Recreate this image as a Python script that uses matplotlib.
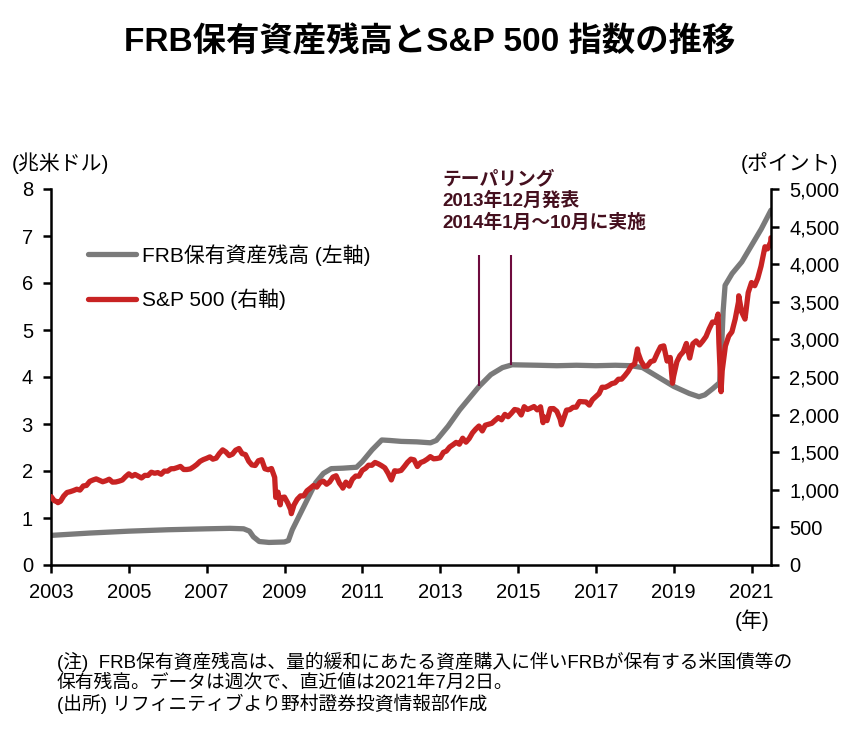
import matplotlib
matplotlib.use('Agg')
import matplotlib.pyplot as plt
import numpy as np
import pandas as pd

plt.rcParams['font.family'] = ['Liberation Sans', 'Noto Sans CJK JP']

# FRB保有資産残高 (兆米ドル)
frb_years = [2003.0, 2004.0, 2005.0, 2006.0, 2007.0, 2007.6, 2007.95, 2008.1, 2008.2, 2008.35,
             2008.6, 2009.0, 2009.1, 2009.2, 2009.35, 2009.5, 2009.65, 2009.8, 2010.0, 2010.2,
             2010.5, 2010.85, 2011.0, 2011.25, 2011.5, 2011.7, 2012.0, 2012.4, 2012.75, 2012.9,
             2013.2, 2013.5, 2013.75, 2014.0, 2014.3, 2014.6, 2014.85, 2015.5, 2016.0, 2016.5,
             2017.0, 2017.5, 2017.9, 2018.2, 2018.6, 2019.0, 2019.4, 2019.65, 2019.8, 2020.0,
             2020.18, 2020.22, 2020.27, 2020.32, 2020.5, 2020.75, 2021.0, 2021.25, 2021.5]
frb_values = [0.63, 0.68, 0.72, 0.75, 0.77, 0.78, 0.77, 0.72, 0.60, 0.50,
              0.48, 0.49, 0.52, 0.75, 1.00, 1.25, 1.50, 1.75, 1.95, 2.05,
              2.06, 2.08, 2.20, 2.45, 2.66, 2.65, 2.63, 2.62, 2.60, 2.65,
              2.95, 3.30, 3.55, 3.80, 4.05, 4.20, 4.26, 4.25, 4.24, 4.25,
              4.24, 4.25, 4.24, 4.20, 4.00, 3.80, 3.65, 3.58, 3.62, 3.75,
              3.88, 4.40, 5.40, 5.95, 6.20, 6.45, 6.80, 7.15, 7.55]

# S&P 500 monthly closes, Jan 2003 - Jun 2021
sp_monthly = [
    856, 841, 848, 917, 964, 975, 990, 1008, 996, 1051, 1058, 1112,
    1131, 1145, 1126, 1107, 1121, 1141, 1102, 1104, 1115, 1130, 1174, 1212,
    1181, 1204, 1181, 1157, 1192, 1191, 1234, 1220, 1229, 1207, 1249, 1248,
    1280, 1281, 1295, 1311, 1270, 1270, 1277, 1304, 1336, 1378, 1401, 1418,
    1438, 1407, 1421, 1482, 1531, 1503, 1455, 1474, 1527, 1549, 1481, 1468,
    1379, 1331, 1323, 1386, 1400, 1280, 1267, 1283, 1165, 969, 896, 903,
    826, 735, 798, 873, 919, 919, 987, 1021, 1057, 1036, 1096, 1115,
    1074, 1104, 1169, 1187, 1089, 1031, 1102, 1049, 1141, 1183, 1181, 1258,
    1286, 1327, 1326, 1364, 1345, 1321, 1292, 1219, 1131, 1253, 1247, 1258,
    1312, 1366, 1408, 1398, 1310, 1362, 1379, 1407, 1441, 1412, 1416, 1426,
    1498, 1515, 1569, 1598, 1631, 1606, 1686, 1633, 1682, 1757, 1806, 1848,
    1783, 1859, 1872, 1884, 1924, 1960, 1931, 2003, 1972, 2018, 2068, 2059,
    1995, 2105, 2068, 2086, 2107, 2063, 2104, 1972, 1920, 2079, 2080, 2044,
    1940, 1932, 2060, 2065, 2097, 2099, 2174, 2171, 2168, 2126, 2199, 2239,
    2279, 2364, 2363, 2384, 2412, 2423, 2470, 2472, 2519, 2575, 2648, 2674,
    2824, 2714, 2641, 2648, 2705, 2718, 2816, 2902, 2914, 2712, 2760, 2507,
    2704, 2784, 2834, 2946, 2752, 2942, 2980, 2926, 2977, 3038, 3141, 3231,
    3226, 2954, 2585, 2912, 3044, 3100, 3271, 3500, 3363, 3270, 3622, 3756,
    3714, 3811, 3973, 4181, 4204, 4298,
]
# weekly highs / lows visible in the chart
sp_extra_dates = ['2003-01-03', '2003-03-07', '2008-10-10', '2008-11-21', '2009-03-06',
                  '2010-07-02', '2015-08-24', '2016-02-12', '2018-01-26', '2018-12-21',
                  '2020-02-21', '2020-03-20', '2020-09-02', '2021-05-07', '2021-07-02']
sp_extra_values = [909, 829, 899, 800, 683,
                   1022, 1893, 1865, 2873, 2417,
                   3337, 2305, 3580, 4232, 4352]

year_ticks = list(range(2003, 2022, 2))
left_ticks = [0, 1, 2, 3, 4, 5, 6, 7, 8]
right_ticks = [0, 500, 1000, 1500, 2000, 2500, 3000, 3500, 4000, 4500, 5000]

title = 'FRB保有資産残高とS&P 500 指数の推移'
notes = ['(注)  FRB保有資産残高は、量的緩和にあたる資産購入に伴いFRBが保有する米国債等の',
         '保有残高。データは週次で、直近値は2021年7月2日。',
         '(出所) リフィニティブより野村證券投資情報部作成']
taper_text = 'テーパリング\n2013年12月発表\n2014年1月～10月に実施'
taper_years = [2014.0, 2014.83]


def to_year(d):
    d = pd.to_datetime(d)
    return d.year + (d.dayofyear - 1) / 365.25


sp = pd.Series(sp_monthly, index=pd.date_range('2003-01-31', periods=len(sp_monthly), freq='ME'))
sp = pd.concat([sp, pd.Series(sp_extra_values, index=pd.to_datetime(sp_extra_dates))]).sort_index()
sp_x = np.array([to_year(d) for d in sp.index])

W, H = 868, 729
fig = plt.figure(figsize=(W / 100, H / 100), dpi=100)
ax = fig.add_axes([51 / W, 1 - 565 / H, 720 / W, 376 / H])
ax2 = ax.twinx()

gray = '#7a7a7a'
red = '#c82323'
maroon = '#6e0b3e'

ax.plot(frb_years, frb_values, color=gray, lw=3.8, solid_capstyle='round',
        solid_joinstyle='round', label='FRB保有資産残高 (左軸)')
ax2.plot(sp_x, sp.values, color=red, lw=3.8, solid_capstyle='round',
         solid_joinstyle='round', label='S&P 500 (右軸)')

for ty in taper_years:
    ax.vlines(ty, np.interp(ty, frb_years, frb_values), 6.6, color=maroon, lw=1.5)
fig.text(442 / W, 1 - 170 / H, taper_text, color='#45101f', fontsize=13.5, fontweight='bold',
         va='top', ha='left', linespacing=1.25)

ax.set_xlim(2003, 2021.5)
ax.set_ylim(0, 8)
ax2.set_ylim(0, 5000)
ax.set_xticks(year_ticks)
ax.set_xticklabels([str(y) for y in year_ticks])
ax.set_yticks(left_ticks)
ax2.set_yticks(right_ticks)
ax2.set_yticklabels([f'{v:,}' for v in right_ticks])

for a in (ax, ax2):
    a.spines['top'].set_visible(False)
    for s in ('left', 'right', 'bottom'):
        a.spines[s].set_linewidth(1.8)
    a.tick_params(direction='out', length=6, width=1.8, labelsize=14.5, pad=7)
ax.spines['right'].set_visible(False)
ax2.spines['left'].set_visible(False)
ax2.spines['bottom'].set_visible(False)

h1, l1 = ax.get_legend_handles_labels()
h2, l2 = ax2.get_legend_handles_labels()
ax.legend(h1 + h2, l1 + l2, loc='upper left', bbox_to_anchor=(88 / W, 1 - 244 / H),
          bbox_transform=fig.transFigure, frameon=False, fontsize=15, handlelength=2.3,
          handletextpad=0.3, labelspacing=1.1, borderpad=0, borderaxespad=0)

fig.text(430 / W, 1 - 42 / H, title, ha='center', va='center', fontsize=24, fontweight='bold')
fig.text(12 / W, 1 - 163 / H, '(兆米ドル)', ha='left', va='center', fontsize=15)
fig.text(838 / W, 1 - 163 / H, '(ポイント)', ha='right', va='center', fontsize=15)
fig.text(752 / W, 1 - 620 / H, '(年)', ha='center', va='center', fontsize=15)
for i, line in enumerate(notes):
    fig.text(57 / W, 1 - (662 + 21 * i) / H, line, ha='left', va='center', fontsize=13.5)

fig.savefig('out.png', dpi=100)
